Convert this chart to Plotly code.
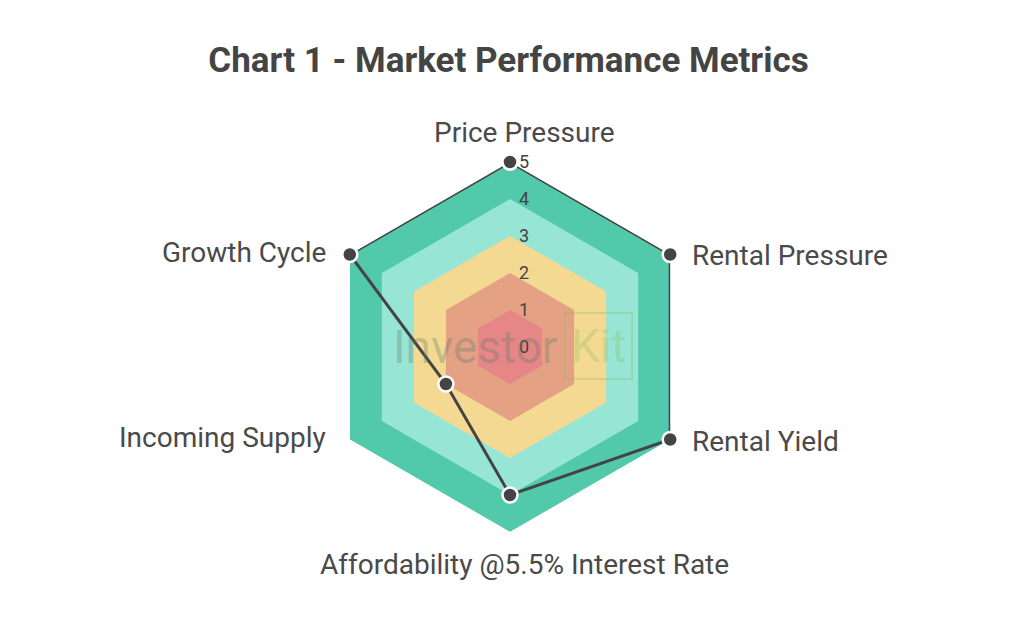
import math
import plotly.graph_objects as go

categories = ["Price Pressure", "Rental Pressure", "Rental Yield",
              "Affordability @5.5% Interest Rate", "Incoming Supply", "Growth Cycle"]
values = [5, 5, 5, 4, 2, 5]
band_levels = [5, 4, 3, 2, 1]
band_colors = ["#52C9AB", "#97E5D4", "#F3D992", "#E5A183", "#E68686"]
tick_vals = [0, 1, 2, 3, 4, 5]

W, H = 1024, 630
OFF = 8  # page body margin offset
CX, CY, R = 510, 347, 185  # polar centre / outer radius in screen pixels


def px(x):
    return (x - OFF) / W


def py(y):
    return 1 - (y - OFF) / H


fig = go.Figure()

for lvl, col in zip(band_levels, band_colors):
    fig.add_trace(go.Scatterpolar(
        r=[lvl] * len(categories) + [lvl],
        theta=categories + [categories[0]],
        fill="toself", fillcolor=col, mode="lines",
        line=dict(width=0, color=col), hoverinfo="skip", showlegend=False))

fig.add_trace(go.Scatterpolar(
    r=values + [values[0]],
    theta=categories + [categories[0]],
    mode="lines+markers",
    line=dict(color="#444444", width=3),
    marker=dict(size=15, color="#444444", line=dict(color="white", width=2.5)),
    showlegend=False))

# category labels placed just outside each hexagon vertex
label_anns = []
n = len(categories)
for i, cat in enumerate(categories):
    ang = math.pi / 2 - 2 * math.pi * i / n
    vx = CX + R * math.cos(ang)
    vy = CY - R * math.sin(ang)
    c = math.cos(ang)
    if abs(c) < 1e-6:
        x, xa = vx + 14, "center"
        y = vy - 29 if math.sin(ang) > 0 else vy + 32
    elif c > 0:
        x, xa, y = vx + 20, "left", vy + 1.5
    else:
        x, xa, y = vx - 22, "right", vy - 2
    label_anns.append(dict(text=cat, x=px(x), y=py(y), xref="paper", yref="paper",
                           xanchor=xa, yanchor="middle", showarrow=False,
                           font=dict(size=28, color="#4a4a4a", family="Roboto")))

fig.update_layout(
    width=W, height=H,
    margin=dict(l=0, r=0, t=0, b=0),
    paper_bgcolor="white",
    font=dict(family="Roboto", color="#4a4a4a"),
    title=dict(text="<b>Chart 1 - Market Performance Metrics</b>",
               x=px(508.5), xanchor="center", y=py(60), yanchor="middle",
               font=dict(family="Roboto", size=35, color="#444444")),
    polar=dict(
        domain=dict(x=[px(CX - R), px(CX + R)], y=[py(CY + R), py(CY - R)]),
        bgcolor="rgba(0,0,0,0)",
        gridshape="linear",
        radialaxis=dict(range=[0, 5], tickvals=tick_vals, showline=False,
                        angle=90, tickangle=90,
                        gridcolor="rgba(255,255,255,0.25)",
                        ticks="outside", ticklen=5, tickcolor="rgba(0,0,0,0)",
                        tickfont=dict(size=18, color="#444444", family="Roboto"),
                        layer="above traces"),
        angularaxis=dict(rotation=90, direction="clockwise", showline=False,
                         gridcolor="rgba(255,255,255,0.35)", ticks="",
                         showticklabels=False, layer="above traces"),
    ),
    annotations=label_anns + [
        dict(text="Investor", x=px(475), y=py(347), xref="paper", yref="paper",
             showarrow=False, font=dict(size=46, color="rgba(90,120,110,0.33)", family="Roboto")),
        dict(text="Kit", x=px(598), y=py(346), xref="paper", yref="paper",
             showarrow=False, font=dict(size=46, color="rgba(140,190,90,0.3)", family="Roboto"),
             bordercolor="rgba(140,190,90,0.3)", borderwidth=2, borderpad=5),
    ],
)

fig.write_html("out.html")
